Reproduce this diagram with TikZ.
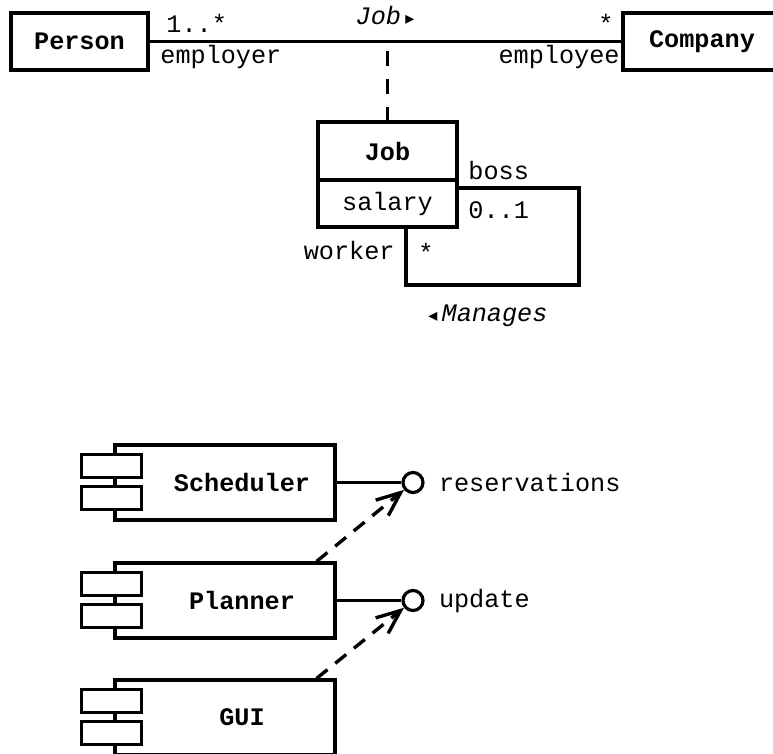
\documentclass[tikz,border=0pt]{standalone}
\usepackage{fontspec}
\setmainfont{Liberation Mono}
\newfontfamily\symfont{DejaVu Sans}
\usetikzlibrary{positioning,arrows.meta}
\newcommand{\rtri}{{\symfont\fontsize{9}{10}\selectfont ▸}}
\newcommand{\ltri}{{\symfont\fontsize{9}{10}\selectfont ◂}}

\begin{document}
\begin{tikzpicture}[x=0.5pt,y=-0.5pt, line join=miter, font=\fontsize{12.6}{15}\selectfont]
	\tikzset{box/.style={draw,line width=1.9pt,inner sep=0,outer sep=0,font=\fontsize{12.6}{15}\selectfont\bfseries},
		lbl/.style={inner sep=0},
		assoc/.style={line width=1.6pt},
		comp/.style={draw,line width=1.6pt,minimum width=110pt,minimum height=37.5pt},
		compname/.style={lbl,font=\fontsize{12.6}{15}\selectfont\bfseries,xshift=8.5pt},
		tab/.style={draw,fill=white,line width=1.6pt},
		ifc/.style={draw,circle,line width=1.6pt,minimum size=10pt,inner sep=0,fill=white},
		dep/.style={line width=1.7pt,dash pattern=on 7pt off 5pt,-{Straight Barb[length=12pt,width=10pt]}}}
	\useasboundingbox (0,0) rectangle (773,754);
	\clip (0,0) rectangle (773,754);
	% class diagram
	\node[box,minimum width=68.5pt,minimum height=28.5pt] (person) at (79.5,41.5) {Person};
	\node[box,minimum width=79pt,minimum height=28.5pt] (company) at (702,41.5) {Company};
	\draw[assoc] (person) -- (company);
	\node[lbl,anchor=base west] (pmult) at (166,33) {1..*};
	\node[lbl,anchor=base west] (prole) at (160,64) {employer};
	\node[lbl,anchor=base east] (cmult) at (614,33) {*};
	\node[lbl,anchor=base east] (crole) at (620,64) {employee};
	\node[lbl,anchor=base] (jobassoc) at (385,25) {\textit{Job}\,\rtri};
	\node[box,minimum width=69.5pt,minimum height=29pt] (job) at (387.5,151) {Job};
	\node[box,font=\fontsize{12.6}{15}\selectfont,minimum width=69.5pt,minimum height=23.5pt,anchor=north] (jobattr) at (job.south) {salary};
	\draw[assoc,dash pattern=on 7.5pt off 6.5pt] (job.north) -- (job.north |- person.east);
	\coordinate (bossend) at (579,188);\coordinate (workerend) at (406,285);
	\draw[assoc] (jobattr.east |- bossend) -- (bossend) |- (workerend) -- (workerend |- jobattr.south);
	\node[lbl,anchor=base west] (boss) at (468,180) {boss};
	\node[lbl,anchor=base west] (bossmult) at (468,219) {0..1};
	\node[lbl,anchor=base east] (worker) at (395,260) {worker};
	\node[lbl,anchor=base west] (workermult) at (418,262) {*};
	\node[lbl,anchor=base west] (manages) at (428,322) {\ltri\,\textit{Manages}};
	% component diagram
	\node[comp,label={[compname]center:Scheduler}] (sched) at (225,482.5) {};
	\node[comp,label={[compname]center:Planner}] (plan) at (225,600.5) {};
	\node[comp,label={[compname]center:GUI}] (gui) at (225,717.5) {};
	\foreach \c in {sched,plan,gui}{
		\draw[tab] ([xshift=-16pt,yshift=-5.5pt]\c.north west) rectangle ++(30pt,-11.5pt);
		\draw[tab] ([xshift=-16pt,yshift=-21.5pt]\c.north west) rectangle ++(30pt,-11.5pt);
	}
	\node[ifc] (resv) at (413,482.5) {};
	\node[ifc] (upd) at (413,600.5) {};
	\node[lbl,right=7pt of resv] (resvname) {reservations};
	\node[lbl,right=7pt of upd] (updname) {update};
	\draw[assoc] (sched) -- (resv);
	\draw[assoc] (plan) -- (upd);
	\draw[dep] ([xshift=-10pt]plan.north east) -- (resv);
	\draw[dep] ([xshift=-10pt]gui.north east) -- (upd);
\end{tikzpicture}
\end{document}
